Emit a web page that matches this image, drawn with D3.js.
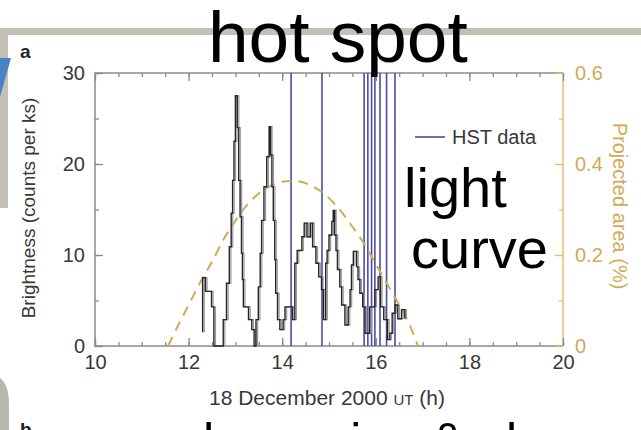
<!DOCTYPE html>
<html>
<head>
<meta charset="utf-8">
<style>
body, html {
	width: 100%;
	height: 100%;
	margin: 0;
	background: #fff;
}
svg { display: block; }
</style>
</head>
<body>
<div id="chartContainer"></div>

<script src="https://cdn.jsdelivr.net/npm/d3@7"></script>
<script>

// light curve (step values, counts per ks, hold until next time)
const lcTime = [12.30, 12.30, 12.36, 12.49, 12.54, 12.74, 12.81, 12.87, 12.91, 12.94, 12.97, 13.00, 13.04, 13.07, 13.10, 13.13, 13.15, 13.17, 13.28, 13.35, 13.40,
	13.44, 13.49, 13.53, 13.56, 13.61, 13.67, 13.72, 13.75, 13.78, 13.81, 13.84, 13.86, 13.90, 13.95, 14.02, 14.06, 14.22,
	14.27, 14.32, 14.42, 14.47, 14.53, 14.60, 14.65, 14.72, 14.78, 14.84, 14.88, 14.93, 14.96, 15.00, 15.06, 15.09, 15.12, 15.15, 15.18, 15.23, 15.27, 15.34,
	15.41, 15.45, 15.48, 15.52, 15.59, 15.62, 15.66, 15.72, 15.77, 15.87, 15.98, 16.05, 16.10, 16.17, 16.25, 16.30, 16.35, 16.41, 16.47, 16.55, 16.62];
const lcCount = [1.5, 7.5, 6.0, 4.3, 0, 2.9, 6.9, 10.9, 14.6, 18.2, 22.5, 27.5, 24.0, 18.2, 14.2, 10.2, 7.3, 4.3, 2.9, 1.8, 0,
	2.9, 6.5, 10.2, 13.8, 17.5, 20.8, 24.1, 21.0, 17.5, 13.8, 9.5, 5.8, 2.9, 1.8, 2.9, 4.3, 2.9,
	9.1, 10.5, 12.0, 13.5, 12.0, 13.5, 10.9, 9.1, 7.6, 6.2, 2.9, 9.1, 10.5, 12.2, 13.7, 14.9, 12.2, 10.5, 8.4, 6.5, 4.5, 2.3,
	4.3, 6.2, 8.9, 10.4, 8.7, 7.3, 5.8, 4.3, 1.4, 4.3, 6.2, 7.6, 4.3, 2.9, 0.7, 1.4, 3.6, 4.5, 3.0, 4.0, 3.0];

// projected area of the hot spot (%)
const areaTime = [11.56, 11.8, 12.0, 12.25, 12.5, 12.75, 13.0, 13.25, 13.5, 13.75, 14.0, 14.25, 14.5, 14.75, 15.0, 15.25, 15.5, 15.75, 16.0, 16.25, 16.5, 16.75, 16.9];
const areaValue = [0, 0.05, 0.09, 0.14, 0.185, 0.235, 0.275, 0.31, 0.335, 0.352, 0.361, 0.363, 0.358, 0.345, 0.325, 0.297, 0.262, 0.225, 0.18, 0.135, 0.09, 0.04, 0];

// HST observation times (h)
const hstTimes = [14.19, 14.85, 15.75, 15.83, 15.91, 15.98, 16.09, 16.23, 16.41];

const xTicks = [10, 12, 14, 16, 18, 20];
const yTicks = [0, 10, 20, 30];
const y2Ticks = [0, 0.2, 0.4, 0.6];

const W = 641, H = 430;
const FONT = '"Liberation Sans", Arial, Helvetica, sans-serif';
const TEXT_COLOR = '#383838';
const AXIS_COLOR = '#8a8a8a';
const GOLD = '#d1aa55';
const GOLD_AXIS = '#dcc078';
const HST_COLOR = '#4c4ca6';
const CURVE_COLOR = '#262626';

const plot = {left: 95, right: 563, top: 73, bottom: 346};

var svg = d3.select("#chartContainer").append("svg")
	.attr("width", W).attr("height", H);

// slide decoration
var deco = svg.append("g").attr("class", "slide");
deco.append("rect").attr("x", 0).attr("y", 28).attr("width", W).attr("height", 7).attr("fill", "#c4c0b7");
deco.append("rect").attr("x", 0).attr("y", 28).attr("width", 8).attr("height", 180).attr("fill", "#c4c0b7");
deco.append("path").attr("d", "M0,58L11,58L0,97Z").attr("fill", "#4a82c8");
deco.append("path").attr("d", "M0,378Q9,385 9,404L9,430L0,430Z").attr("fill", "#b9b6b0");

var x = d3.scaleLinear().domain([10, 20]).range([plot.left, plot.right]);
var y = d3.scaleLinear().domain([0, 30]).range([plot.bottom, plot.top]);
var y2 = d3.scaleLinear().domain([0, 0.6]).range([plot.bottom, plot.top]);

var chart = svg.append("g").attr("class", "chart");

// frame: left, top, bottom grey; right gold
chart.append("path")
	.attr("d", `M${plot.right},${plot.top}H${plot.left}V${plot.bottom}H${plot.right}`)
	.attr("fill", "none").attr("stroke", AXIS_COLOR).attr("stroke-width", 1.5);
chart.append("line")
	.attr("x1", plot.right).attr("x2", plot.right).attr("y1", plot.top).attr("y2", plot.bottom)
	.attr("stroke", GOLD_AXIS).attr("stroke-width", 1.5);

// axes with inward ticks
function styleAxis(g, color) {
	g.select(".domain").remove();
	g.selectAll("line").attr("stroke", color).attr("stroke-width", 1.3);
	g.selectAll("text").attr("font-family", FONT).attr("font-size", 20).attr("fill", color === AXIS_COLOR ? TEXT_COLOR : GOLD);
}

var xMinor = d3.range(10, 20.01, 0.5);
var yMinor = d3.range(0, 30.01, 5);
var y2Minor = d3.range(0, 0.61, 0.1);

chart.append("g").attr("transform", `translate(0,${plot.bottom})`)
	.call(d3.axisBottom(x).tickValues(xMinor).tickSize(-4).tickFormat(""))
	.call(g => styleAxis(g, AXIS_COLOR));
chart.append("g").attr("transform", `translate(0,${plot.bottom})`)
	.call(d3.axisBottom(x).tickValues(xTicks).tickSize(-8).tickPadding(9).tickFormat(d3.format("d")))
	.call(g => styleAxis(g, AXIS_COLOR));
chart.append("g").attr("transform", `translate(0,${plot.top})`)
	.call(d3.axisTop(x).tickValues(xMinor).tickSize(-4).tickFormat(""))
	.call(g => styleAxis(g, AXIS_COLOR));
chart.append("g").attr("transform", `translate(0,${plot.top})`)
	.call(d3.axisTop(x).tickValues(xTicks).tickSize(-8).tickFormat(""))
	.call(g => styleAxis(g, AXIS_COLOR));

chart.append("g").attr("transform", `translate(${plot.left},0)`)
	.call(d3.axisLeft(y).tickValues(yMinor).tickSize(-4).tickFormat(""))
	.call(g => styleAxis(g, AXIS_COLOR));
chart.append("g").attr("transform", `translate(${plot.left},0)`)
	.call(d3.axisLeft(y).tickValues(yTicks).tickSize(-8).tickPadding(10).tickFormat(d3.format("d")))
	.call(g => styleAxis(g, AXIS_COLOR));

chart.append("g").attr("transform", `translate(${plot.right},0)`)
	.call(d3.axisRight(y2).tickValues(y2Minor).tickSize(-4).tickFormat(""))
	.call(g => styleAxis(g, GOLD_AXIS));
chart.append("g").attr("transform", `translate(${plot.right},0)`)
	.call(d3.axisRight(y2).tickValues(y2Ticks).tickSize(-8).tickPadding(12).tickFormat(d => d === 0 ? "0" : d3.format(".1f")(d)))
	.call(g => styleAxis(g, GOLD_AXIS));

// HST observation lines
chart.append("g").attr("class", "hst")
	.selectAll("line")
	.data(hstTimes)
	.enter().append("line")
		.attr("x1", d => x(d)).attr("x2", d => x(d))
		.attr("y1", plot.top).attr("y2", plot.bottom)
		.attr("stroke", HST_COLOR)
		.attr("stroke-width", 1.6);

// projected area, dashed
var areaLine = d3.line()
	.x((d, i) => x(areaTime[i]))
	.y(d => y2(d))
	.curve(d3.curveMonotoneX);
chart.append("path")
	.attr("d", areaLine(areaValue))
	.attr("fill", "none")
	.attr("stroke", GOLD)
	.attr("stroke-width", 2)
	.attr("stroke-dasharray", "10,7");

// light curve, step
var lcLine = d3.line()
	.x((d, i) => x(lcTime[i]))
	.y(d => y(d))
	.curve(d3.curveStepAfter);
chart.append("path")
	.attr("d", lcLine(lcCount))
	.attr("fill", "none")
	.attr("stroke", "#9a9a9a")
	.attr("stroke-width", 1.2)
	.attr("transform", "translate(1.6,0)");
chart.append("path")
	.attr("d", lcLine(lcCount))
	.attr("fill", "none")
	.attr("stroke", CURVE_COLOR)
	.attr("stroke-width", 1.4);

// legend
var legend = chart.append("g").attr("transform", "translate(415,137)");
legend.append("line").attr("x1", 0).attr("x2", 30).attr("stroke", HST_COLOR).attr("stroke-width", 1.6);
legend.append("text").attr("x", 37).attr("dy", "0.35em")
	.attr("font-family", FONT).attr("font-size", 20).attr("fill", TEXT_COLOR)
	.text("HST data");

// axis titles
chart.append("text")
	.attr("transform", "translate(35,208) rotate(-90)")
	.attr("text-anchor", "middle")
	.attr("font-family", FONT).attr("font-size", 19).attr("fill", TEXT_COLOR)
	.text("Brightness (counts per ks)");
chart.append("text")
	.attr("transform", "translate(613,206) rotate(90)")
	.attr("text-anchor", "middle")
	.attr("font-family", FONT).attr("font-size", 20).attr("fill", GOLD)
	.text("Projected area (%)");
var xTitle = chart.append("text")
	.attr("x", 327).attr("y", 405)
	.attr("text-anchor", "middle")
	.attr("font-family", FONT).attr("font-size", 21).attr("fill", TEXT_COLOR);
xTitle.append("tspan").text("18 December 2000 ");
xTitle.append("tspan").attr("font-size", 15).text("UT");
xTitle.append("tspan").text(" (h)");

// panel letters
chart.append("text").attr("x", 20).attr("y", 58)
	.attr("font-family", FONT).attr("font-size", 19).attr("font-weight", "bold").attr("fill", "#222")
	.text("a");
chart.append("text").attr("x", 20).attr("y", 436)
	.attr("font-family", FONT).attr("font-size", 19).attr("font-weight", "bold").attr("fill", "#222")
	.text("b");

// slide overlay text
var overlay = svg.append("g").attr("class", "overlay")
	.attr("font-family", FONT).attr("fill", "#000");
overlay.append("text").attr("x", 208).attr("y", 62).attr("font-size", 73).text("hot spot");
overlay.append("text").attr("x", 404).attr("y", 207).attr("font-size", 56).text("light");
overlay.append("text").attr("x", 411).attr("y", 268).attr("font-size", 56).text("curve");
overlay.append("text").attr("x", 203).attr("y", 458).attr("font-size", 50).text("heavy ion & ele");

</script>
</body>
</html>
